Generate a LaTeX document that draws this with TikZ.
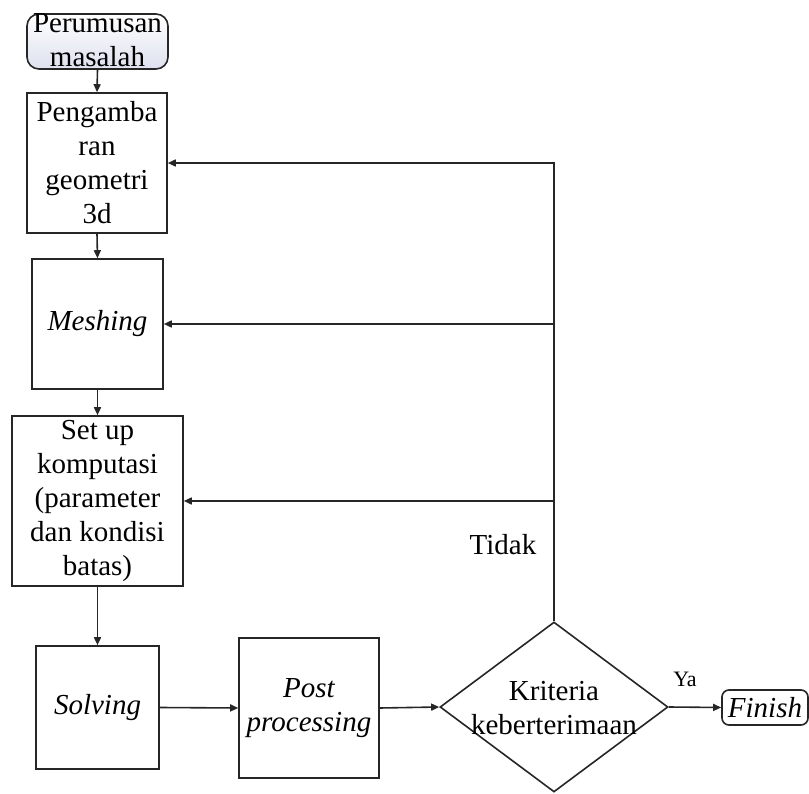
\documentclass[tikz,border=0pt]{standalone}
\usepackage{fontspec}
\setmainfont{Liberation Serif}
\usetikzlibrary{shapes.geometric,arrows.meta}
\begin{document}
\begin{tikzpicture}[x=1pt,y=-1pt]
\tikzset{
  box/.style={draw=black!85, line width=1.6pt, inner sep=0pt, align=center, font=\fontsize{29}{34}\selectfont},
  lbl/.style={inner sep=0pt, align=center, font=\fontsize{29}{34}\selectfont},
  arr/.style={draw=black!85, line width=1.6pt, -{Triangle[length=8pt,width=7pt]}},
  ln/.style={draw=black!85, line width=1.6pt}
}
\useasboundingbox (0,0) rectangle (809,794);
% nodes
\node[box, minimum width=141pt, minimum height=55pt, rounded corners=12pt,
      top color=white, bottom color={rgb,255:red,222;green,225;blue,238}] (per) at (97.5,41.5) {};
\node[lbl] (pertxt) at (97.5,40) {Perumusan\\masalah};
\node[box, minimum width=140pt, minimum height=140pt] (peng) at (97,163) {Pengamba\\ran\\geometri\\3d};
\node[box, minimum width=131pt, minimum height=130pt] (mesh) at (97.5,324) {\itshape Meshing};
\node[box, minimum width=171pt, minimum height=170pt] (setup) at (97.5,501) {Set up\\komputasi\\(parameter\\dan kondisi\\batas)};
\node[box, minimum width=123pt, minimum height=123pt] (solv) at (97.5,707.5) {\itshape Solving};
\node[box, minimum width=140pt, minimum height=140pt] (post) at (309,708) {\itshape Post\\\itshape processing};
\node[draw=black!85, line width=1.6pt, diamond, inner sep=0pt, minimum width=228pt, minimum height=170pt] (dia) at (554,707) {};
\node[lbl] (diatxt) at (554,708) {Kriteria\\keberterimaan};
\node[box, minimum width=86pt, minimum height=35pt, rounded corners=7pt] (fin) at (765,707.5) {\itshape Finish};
% labels
\node[lbl] (tidak) at (503,545) {Tidak};
\node[lbl, font=\fontsize{22}{26}\selectfont] (ya) at (685,679) {Ya};
% connectors
\draw[arr] (per.south) -- (peng.north);
\draw[arr] (peng.south) -- (mesh.north);
\draw[arr] (mesh.south) -- (setup.north);
\draw[arr] (setup.south) -- (solv.north);
\draw[arr] (solv.east) -- (post.west);
\draw[arr] (post.east) -- (dia.west);
\draw[arr] (dia.east) -- (fin.west);
\draw[arr] (dia.north) |- (peng.east);
\coordinate (m1) at (554,324);
\coordinate (s1) at (554,501);
\draw[arr] (m1) -- (mesh.east);
\draw[arr] (s1) -- (setup.east);
\end{tikzpicture}
\end{document}
